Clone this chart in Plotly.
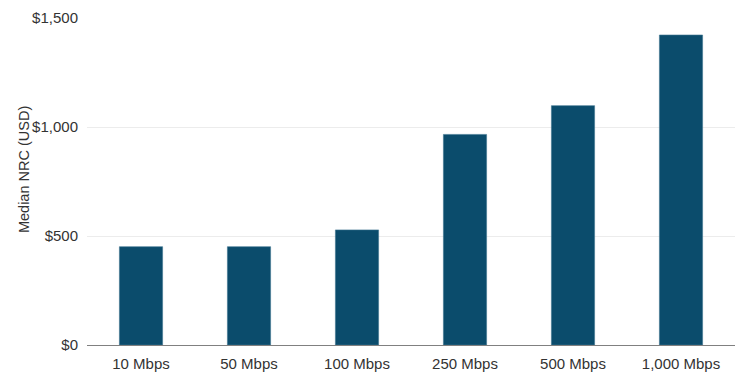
import plotly.graph_objects as go

categories = ["10 Mbps", "50 Mbps", "100 Mbps", "250 Mbps", "500 Mbps", "1,000 Mbps"]
median_nrc = [451, 451, 528, 966, 1098, 1422]
y_tickvals = [0, 500, 1000, 1500]
y_ticktext = ["$0", "$500", "$1,000", "$1,500"]
y_title = "Median NRC (USD)"

FONT = "Liberation Sans, Arial, Helvetica, sans-serif"

fig = go.Figure(
    go.Bar(
        x=categories,
        y=median_nrc,
        marker=dict(color="#0b4c6c", line=dict(color="#3f7591", width=0.6)),
    )
)

fig.update_layout(
    width=752,
    height=381,
    margin=dict(l=87, r=17, t=18, b=36),
    paper_bgcolor="white",
    plot_bgcolor="white",
    bargap=0.6,
    showlegend=False,
    font=dict(family=FONT, size=15, color="#333333"),
)

fig.update_xaxes(
    automargin=False,
    showgrid=False,
    showline=False,
    ticks="",
    ticklabelstandoff=8,
    tickfont=dict(size=15, color="#333333"),
)

fig.update_yaxes(
    automargin=False,
    range=[0, 1500],
    tickvals=y_tickvals,
    ticktext=y_ticktext,
    showgrid=True,
    gridcolor="#ececec",
    gridwidth=1,
    zeroline=True,
    zerolinecolor="#808080",
    zerolinewidth=1,
    showline=False,
    ticks="",
    ticklabelstandoff=8,
    tickfont=dict(size=15, color="#333333"),
)

fig.add_annotation(
    text=y_title,
    xref="paper", yref="paper",
    x=0, y=0.535,
    xshift=-63,
    xanchor="center", yanchor="middle",
    textangle=-90,
    showarrow=False,
    font=dict(size=14.5, color="#333333", family=FONT),
)

fig.write_html("out.html")
